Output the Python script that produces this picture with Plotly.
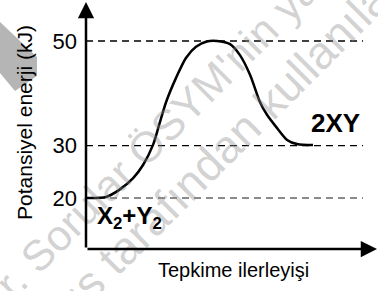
import plotly.graph_objects as go

# ---- data ----
progress = [0, 6.9, 11.3, 16.2, 19.6, 23.0, 25.1, 27.5, 30.9, 34.4, 37.8, 41.5, 45.0,
            49.5, 52.9, 56.4, 59.8, 62.2, 65.6, 69.1, 72.5, 78.0]
energy = [20, 20.2, 21.5, 23.8, 26.3, 30.1, 33.9, 38.3, 42.9, 46.8, 48.9, 49.9, 50.0,
          49.4, 47.3, 43.5, 38.3, 35.9, 33.4, 31.1, 30.3, 30.1]
levels = [50, 30, 20]
level_colors = ["black", "black", "#666666"]
tick_vals = [20, 30, 50]
tick_text = ["20", "30", "50"]
y_title = "Potansiyel enerji (kJ)"
x_title = "Tepkime ilerleyişi"
reactant_label = "X<sub>2</sub>+Y<sub>2</sub>"
product_label = "2XY"
wm_line1 = "r. Sorular ÖSYM'nin ya"
wm_line2 = "ış tarafından kullanılam"

W, H = 378, 291
L, R, T, B = 86, 1, 2, 42
XMIN, XMAX = 0, 100
YMIN, YMAX = 10.25, 57.45
FONT = "Liberation Sans, Arial, sans-serif"

def px(xp):
    return (xp - L) / (W - L - R)

def py(yp):
    return (H - B - yp) / (H - T - B)

fig = go.Figure()

# dashed reference levels
for lv, col in zip(levels, level_colors):
    fig.add_trace(go.Scatter(x=[0, 95.2], y=[lv, lv], mode="lines",
                             line=dict(color=col, width=1.3, dash="7px,5px"),
                             hoverinfo="skip", showlegend=False))

# energy curve
fig.add_trace(go.Scatter(x=progress, y=energy, mode="lines",
                         line=dict(color="black", width=2.5, shape="spline", smoothing=0.8),
                         showlegend=False))

# gray ribbon top-left
ribbon = [(0, 22), (37, 57), (37, 76), (15, 91), (0, 73)]
path = "M " + " L ".join(f"{px(a):.4f},{py(b):.4f}" for a, b in ribbon) + " Z"
shapes = [dict(type="path", xref="paper", yref="paper", path=path,
               fillcolor="#b5b5b5", line=dict(width=0), layer="below")]

WM_COLOR = "rgba(140,140,140,0.40)"
annotations = [
    # watermark
    dict(x=px(157), y=py(136), xref="paper", yref="paper", text=wm_line1, textangle=-45,
         xanchor="center", yanchor="middle", showarrow=False,
         font=dict(family=FONT, size=43, color=WM_COLOR)),
    dict(x=px(240), y=py(132), xref="paper", yref="paper", text=wm_line2, textangle=-45,
         xanchor="center", yanchor="middle", showarrow=False,
         font=dict(family=FONT, size=46, color=WM_COLOR)),
    # axes arrows
    dict(x=XMIN, y=YMAX, ax=XMIN, ay=YMIN, xref="x", yref="y", axref="x", ayref="y",
         text="", showarrow=True, arrowhead=2, arrowsize=1.3, arrowwidth=2.5,
         arrowcolor="black", standoff=0),
    dict(x=XMAX, y=YMIN, ax=XMIN, ay=YMIN, xref="x", yref="y", axref="x", ayref="y",
         text="", showarrow=True, arrowhead=2, arrowsize=1.3, arrowwidth=2.5,
         arrowcolor="black", standoff=0),
    # labels
    dict(x=85.6, y=34.4, xref="x", yref="y", text=f"<b>{product_label}</b>", showarrow=False,
         xanchor="center", yanchor="middle",
         font=dict(family=FONT, size=26, color="black")),
    dict(x=14.8, y=16.2, xref="x", yref="y", text=f"<b>{reactant_label}</b>", showarrow=False,
         xanchor="center", yanchor="middle",
         font=dict(family=FONT, size=24, color="black")),
    # axis titles
    dict(x=px(25), y=py(123), xref="paper", yref="paper", text=y_title, textangle=-90,
         xanchor="center", yanchor="middle",
         showarrow=False, font=dict(family=FONT, size=21, color="black")),
    dict(x=px(233), y=py(270), xref="paper", yref="paper", text=x_title,
         xanchor="center", yanchor="middle",
         showarrow=False, font=dict(family=FONT, size=20, color="black")),
]

fig.update_layout(
    width=W, height=H,
    margin=dict(l=L, r=R, t=T, b=B, pad=0),
    paper_bgcolor="white", plot_bgcolor="white",
    shapes=shapes, annotations=annotations,
    xaxis=dict(range=[XMIN, XMAX], showgrid=False, zeroline=False, showline=False,
               showticklabels=False, ticks="", automargin=False),
    yaxis=dict(range=[YMIN, YMAX], showgrid=False, zeroline=False, showline=False,
               tickvals=tick_vals, ticktext=tick_text, ticks="", ticklabelstandoff=8,
               automargin=False,
               tickfont=dict(family=FONT, size=22, color="black")),
    showlegend=False,
)

fig.write_html("out.html", config={"displayModeBar": False},
               post_script="document.body.style.margin='0';")
